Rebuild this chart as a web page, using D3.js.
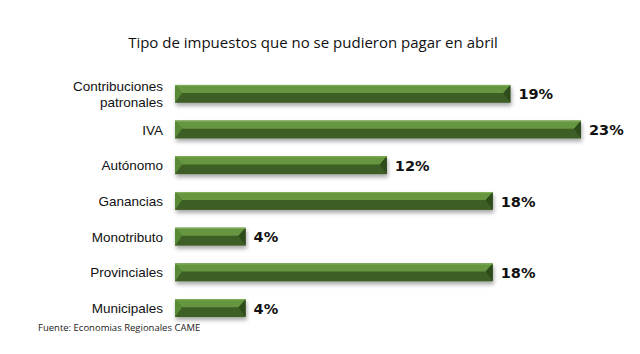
<!DOCTYPE html>
<html><head><meta charset="utf-8">
<script src="https://cdn.jsdelivr.net/npm/d3@7"></script>
<style>body{margin:0;background:#fff}svg{display:block}</style>
</head><body>
<script>
const categories = [["Contribuciones","patronales"],["IVA"],["Autónomo"],["Ganancias"],["Monotributo"],["Provinciales"],["Municipales"]];
const values = [19, 23, 12, 18, 4, 18, 4];
const labels = ["19%","23%","12%","18%","4%","18%","4%"];

const W = 640, H = 354;
const svg = d3.select("body").append("svg").attr("width", W).attr("height", H);
const font = "Open Sans, Liberation Sans, sans-serif";
const catFont = "Liberation Sans, Arial, sans-serif";

const x = d3.scaleLinear().domain([0, 23]).range([175, 581]);
const y = d3.scaleBand().domain(d3.range(categories.length)).range([76, 326]).paddingInner(0.5).paddingOuter(0.25);

const defs = svg.append("defs");
const f = defs.append("filter").attr("id","sh").attr("x","-5%").attr("y","-30%").attr("width","110%").attr("height","190%");
f.append("feGaussianBlur").attr("in","SourceAlpha").attr("stdDeviation",2);
f.append("feOffset").attr("dx",1).attr("dy",3).attr("result","b");
f.append("feComponentTransfer").append("feFuncA").attr("type","linear").attr("slope",0.35);
const m = f.append("feMerge"); m.append("feMergeNode"); m.append("feMergeNode").attr("in","SourceGraphic");

svg.append("text").attr("x", 313).attr("y", 48).attr("text-anchor","middle")
  .attr("font-family", font).attr("font-size", 15).attr("fill","#111")
  .text("Tipo de impuestos que no se pudieron pagar en abril");

const g = svg.selectAll("g.bar").data(values).join("g").attr("class","bar");
g.each(function(v, i) {
  const s = d3.select(this);
  const x0 = x(0), x1 = x(v), y0 = y(i), h = y.bandwidth(), mid = y0 + h * 0.45, b = 7;
  const gg = s.append("g").attr("filter","url(#sh)");
  gg.append("rect").attr("x", x0).attr("y", y0).attr("width", x1 - x0).attr("height", h).attr("fill","#3d5e27");
  gg.append("polygon").attr("points", `${x0},${y0} ${x1},${y0} ${x1-b},${mid} ${x0+b},${mid}`).attr("fill","#66963f");
  gg.append("polygon").attr("points", `${x0},${y0} ${x0+b},${mid} ${x0},${y0+h}`).attr("fill","#588a35");
  gg.append("polygon").attr("points", `${x1},${y0} ${x1-b},${mid} ${x1},${y0+h}`).attr("fill","#2f4b1d");
  gg.append("line").attr("x1",x0).attr("x2",x1).attr("y1",y0+0.5).attr("y2",y0+0.5).attr("stroke","#80b058").attr("stroke-width",1);
  s.append("text").attr("x", x1 + 8).attr("y", y0 + h/2 + 5.5)
    .attr("font-family", "DejaVu Sans, Verdana, sans-serif").attr("font-weight","bold").attr("font-size", 14.5).attr("fill","#111")
    .text(labels[i]);
  const cat = categories[i];
  cat.forEach((c, k) => {
    s.append("text").attr("text-anchor","end").attr("font-family", catFont).attr("font-size", 13.5).attr("fill","#111")
      .attr("x", 163).attr("y", y0 + h/2 + 5 + (k - (cat.length-1)/2) * 15.5).text(c);
  });
});

svg.append("text").attr("x", 38).attr("y", 331).attr("font-family", font).attr("font-size", 9.5).attr("fill","#222")
  .text("Fuente: Economias Regionales CAME");
</script>
</body></html>
